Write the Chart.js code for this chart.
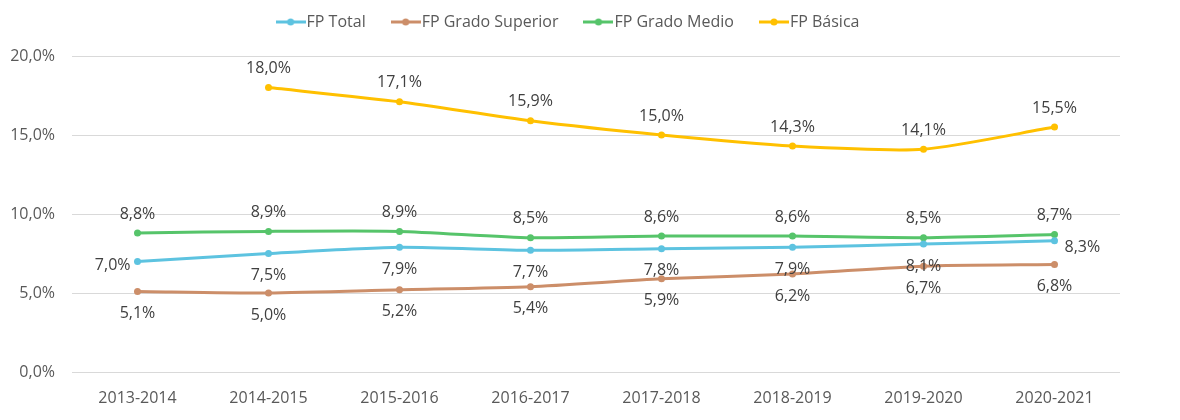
<!DOCTYPE html>
<html>
<head>
<meta charset="utf-8">
<script src="https://cdn.jsdelivr.net/npm/chart.js@4.4.1/dist/chart.umd.min.js"></script>
<style>
html,body{margin:0;padding:0;background:#fff;}
#wrap{width:1180px;height:420px;}
</style>
</head>
<body>
<div id="wrap"><canvas id="c" width="1180" height="420"></canvas></div>
<script>
const categories = ['2013-2014','2014-2015','2015-2016','2016-2017','2017-2018','2018-2019','2019-2020','2020-2021'];
const fpTotal    = [7.0, 7.5, 7.9, 7.7, 7.8, 7.9, 8.1, 8.3];
const fpSuperior = [5.1, 5.0, 5.2, 5.4, 5.9, 6.2, 6.7, 6.8];
const fpMedio    = [8.8, 8.9, 8.9, 8.5, 8.6, 8.6, 8.5, 8.7];
const fpBasica   = [null, 18.0, 17.1, 15.9, 15.0, 14.3, 14.1, 15.5];
const yTicks     = [0, 5, 10, 15, 20];

const FONT = "'Open Sans', 'Liberation Sans', sans-serif";
const fmt = v => v.toFixed(1).replace('.', ',') + '%';

function legendMarker(color){
  const c = document.createElement('canvas');
  c.width = 30; c.height = 8;
  const g = c.getContext('2d');
  g.strokeStyle = color; g.lineWidth = 3;
  g.beginPath(); g.moveTo(0,4); g.lineTo(30,4); g.stroke();
  g.fillStyle = color; g.beginPath(); g.arc(15,4,3.5,0,Math.PI*2); g.fill();
  return c;
}

const colors = {
  total: '#5DC3E0',
  sup: '#CC8E69',
  medio: '#56C46A',
  bas: '#FFC000'
};

function ds(label, data, color, labelPos){
  return {
    label, data,
    borderColor: color, backgroundColor: color,
    borderWidth: 3, pointRadius: 3.5, pointHoverRadius: 3.5,
    pointBorderWidth: 0, pointBackgroundColor: color,
    tension: 0.22, fill: false,
    pointStyle: 'circle',
    legendMarker: legendMarker(color),
    labelPos
  };
}

const totalPos = ['left','below','below','below','below','below','below','right'];
const datasets = [
  ds('FP Total', fpTotal, colors.total, totalPos),
  ds('FP Grado Superior', fpSuperior, colors.sup, 'below'),
  ds('FP Grado Medio', fpMedio, colors.medio, 'above'),
  ds('FP Básica', fpBasica, colors.bas, 'above')
];

const dataLabels = {
  id: 'dataLabels',
  afterDatasetsDraw(chart){
    const ctx = chart.ctx;
    ctx.save();
    ctx.font = "16px " + FONT;
    ctx.fillStyle = '#404040';
    chart.data.datasets.forEach((d, di) => {
      const meta = chart.getDatasetMeta(di);
      meta.data.forEach((pt, i) => {
        const v = d.data[i];
        if (v === null || v === undefined) return;
        const pos = Array.isArray(d.labelPos) ? d.labelPos[i] : d.labelPos;
        const t = fmt(v);
        let x = pt.x, y = pt.y;
        ctx.textBaseline = 'middle';
        if (pos === 'above'){ ctx.textAlign = 'center'; y -= 19; }
        else if (pos === 'below'){ ctx.textAlign = 'center'; y += 22; }
        else if (pos === 'left'){ ctx.textAlign = 'right'; x -= 7; y += 4; }
        else { ctx.textAlign = 'left'; x += 10; y += 7; }
        ctx.fillText(t, x, y);
      });
    });
    ctx.restore();
  }
};

const legendPatch = {
  id: 'legendPatch',
  beforeLayout(chart){
    const lg = chart.legend;
    if (lg && !lg._patched){
      const orig = lg.fit.bind(lg);
      lg.fit = function(){ orig(); this.height = 74; };
      lg._patched = true;
    }
  },
  afterLayout(chart){
    const lg = chart.legend;
    if (lg){ lg.left += 11; lg.right += 11; }
  }
};

new Chart(document.getElementById('c'), {
  type: 'line',
  data: { labels: categories, datasets },
  options: {
    responsive: false,
    animation: false,
    events: [],
    layout: { padding: { top: -18, right: 60, left: 0, bottom: 0 } },
    plugins: {
      tooltip: { enabled: false },
      legend: {
        position: 'top',
        labels: {
          font: { family: FONT, size: 16 },
          color: '#595959',
          usePointStyle: true,
          pointStyleWidth: 16,
          padding: 32,
          generateLabels(chart){
            return chart.data.datasets.map((d, i) => ({
              text: d.label,
              fillStyle: d.borderColor,
              strokeStyle: d.borderColor,
              lineWidth: 0,
              pointStyle: d.legendMarker,
              hidden: false,
              datasetIndex: i,
              fontColor: '#595959'
            }));
          }
        }
      }
    },
    scales: {
      x: {
        offset: true,
        grid: { display: false, drawTicks: false },
        border: { display: false },
        ticks: { font: { family: FONT, size: 16 }, color: '#595959', padding: 17, maxRotation: 0 },
        afterFit(s){ s.height = 48; }
      },
      y: {
        min: 0, max: 20,
        afterBuildTicks(s){ s.ticks = yTicks.map(v => ({ value: v })); },
        grid: { color: '#D9D9D9', lineWidth: 1, drawTicks: false },
        border: { display: false },
        ticks: { font: { family: FONT, size: 16 }, color: '#595959', padding: 17, callback: v => fmt(v) },
        afterFit(s){ s.width = 72; }
      }
    }
  },
  plugins: [dataLabels, legendPatch]
});
</script>
</body>
</html>
